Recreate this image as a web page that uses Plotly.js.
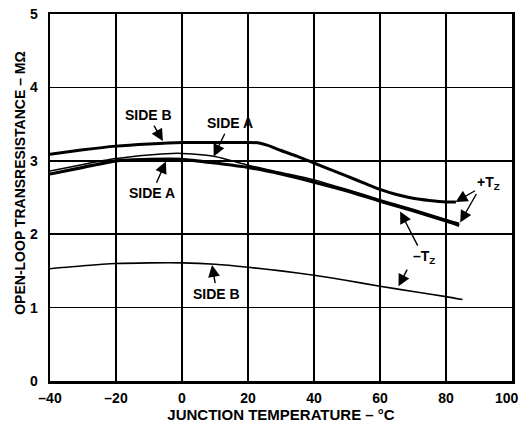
<!DOCTYPE html>
<html>
<head>
<meta charset="utf-8">
<script src="https://cdn.plot.ly/plotly-3.0.1.min.js"></script>
<style>html,body{margin:0;padding:0;background:#fff;}</style>
</head>
<body>
<div id="chart" style="width:521px;height:425px;"></div>
<script>
// Temperature (°C) and open-loop transresistance (MΩ)
const sideBUpperX = [-40, -30, -20, -10, 0, 10, 20, 23, 26, 30, 35, 40, 45, 50, 55, 60, 65, 70, 75, 80, 83];
const sideBUpperY = [3.09, 3.15, 3.20, 3.23, 3.25, 3.25, 3.25, 3.245, 3.21, 3.14, 3.06, 2.97, 2.88, 2.79, 2.70, 2.61, 2.54, 2.49, 2.46, 2.44, 2.44];

const sideAThickX = [-40, -30, -20, -10, 0, 10, 20, 30, 40, 50, 60, 70, 80, 84];
const sideAThickY = [2.82, 2.91, 3.00, 3.02, 3.02, 2.97, 2.91, 2.82, 2.71, 2.59, 2.45, 2.32, 2.18, 2.12];

const sideAThinX = [-40, -30, -20, -10, -3, 0, 10, 20, 30, 40, 50, 60, 70, 80, 84];
const sideAThinY = [2.86, 2.95, 3.03, 3.08, 3.10, 3.10, 3.06, 2.94, 2.84, 2.74, 2.61, 2.47, 2.34, 2.20, 2.15];

const sideBLowerX = [-40, -30, -20, -10, 0, 10, 20, 30, 40, 50, 60, 70, 80, 85];
const sideBLowerY = [1.53, 1.57, 1.60, 1.61, 1.61, 1.59, 1.55, 1.50, 1.44, 1.37, 1.29, 1.22, 1.15, 1.11];

const xTickVals = [-40, -20, 0, 20, 40, 60, 80, 100];
const xTickText = ['–40', '–20', '0', '20', '40', '60', '80', '100'];
const yTickVals = [0, 1, 2, 3, 4, 5];
const yTickText = ['0', '1', '2', '3', '4', '5'];

const FONT = 'Liberation Sans, Arial, sans-serif';
const nX = xTickVals.length;

const traces = [
  {x: sideBUpperX, y: sideBUpperY, mode: 'lines', line: {color: '#000', width: 3, shape: 'spline', smoothing: 0.6}},
  {x: sideAThinX, y: sideAThinY, mode: 'lines', line: {color: '#000', width: 1.5, shape: 'spline', smoothing: 0.6}},
  {x: sideAThickX, y: sideAThickY, mode: 'lines', line: {color: '#000', width: 3.2, shape: 'spline', smoothing: 0.6}},
  {x: sideBLowerX, y: sideBLowerY, mode: 'lines', line: {color: '#000', width: 1.6, shape: 'spline', smoothing: 0.6}}
];

const ARROW = {showarrow: true, arrowhead: 2, arrowsize: 1.7, arrowwidth: 1.4, arrowcolor: '#000', standoff: 0, startstandoff: 1};

// label with its arrow: text centred at (tx, ty), arrow head at (hx, hy)
function lblArr(tx, ty, hx, hy, text) {
  return Object.assign({x: hx, y: hy, ax: tx, ay: ty, xref: 'x', yref: 'y', axref: 'x', ayref: 'y',
          text: '<b>' + text + '</b>', font: {family: FONT, size: 14, color: '#000'}}, ARROW);
}
function arr(tx, ty, hx, hy) {
  return Object.assign({x: hx, y: hy, ax: tx, ay: ty, xref: 'x', yref: 'y', axref: 'x', ayref: 'y', text: ''}, ARROW);
}

const annotations = [
  lblArr(-10.3, 3.62, -5.8, 3.27, 'SIDE B'),
  lblArr(14.5, 3.51, 9.6, 3.06, 'SIDE A'),
  lblArr(-9.1, 2.56, -4.9, 2.99, 'SIDE A'),
  lblArr(10.6, 1.19, 9.1, 1.58, 'SIDE B'),
  lblArr(93.0, 2.70, 82.9, 2.44, '+T<sub>Z</sub>'), arr(89.6, 2.58, 84.3, 2.16),
  lblArr(73.2, 1.69, 66.1, 2.31, '–T<sub>Z</sub>'), arr(68.6, 1.55, 65.6, 1.29),
  {xref: 'paper', yref: 'paper', x: -0.065, y: 0.54, xanchor: 'center', yanchor: 'middle', textangle: -90,
   showarrow: false, text: '<b>OPEN-LOOP TRANSRESISTANCE – MΩ</b>', font: {family: FONT, size: 14, color: '#000'}},
  // last x tick label, kept inside the picture's right edge
  {xref: 'x', yref: 'paper', x: xTickVals[nX - 1], y: 0, xanchor: 'right', yanchor: 'top', xshift: 9, yshift: -7,
   showarrow: false, text: '<b>' + xTickText[nX - 1] + '</b>', font: {family: FONT, size: 14, color: '#000'}}
];

const layout = {
  width: 521, height: 425,
  margin: {l: 50, r: 9, t: 14, b: 44},
  paper_bgcolor: '#fff', plot_bgcolor: '#fff',
  showlegend: false,
  font: {family: FONT, color: '#000'},
  xaxis: {
    range: [-40, 100], tickvals: xTickVals, ticktext: xTickText.slice(0, nX - 1).concat(['']),
    showgrid: true, gridcolor: '#000', gridwidth: 1.5,
    showline: true, linecolor: '#000', linewidth: 2.5, mirror: true,
    zeroline: false, ticks: '', ticklabelstandoff: 3,
    tickfont: {family: FONT, size: 14, color: '#000', weight: 'bold'},
    title: {text: '<b>JUNCTION TEMPERATURE – °C</b>', font: {family: FONT, size: 15, color: '#000'}, standoff: 2}
  },
  yaxis: {
    range: [0, 5], tickvals: yTickVals, ticktext: yTickText,
    showgrid: true, gridcolor: '#000', gridwidth: 1.5,
    showline: true, linecolor: '#000', linewidth: 2.5, mirror: true,
    zeroline: false, ticks: '', ticklabelstandoff: 7,
    tickfont: {family: FONT, size: 14, color: '#000', weight: 'bold'}
  },
  annotations: annotations
};

Plotly.newPlot('chart', traces, layout, {staticPlot: true, displayModeBar: false});
</script>
</body>
</html>
